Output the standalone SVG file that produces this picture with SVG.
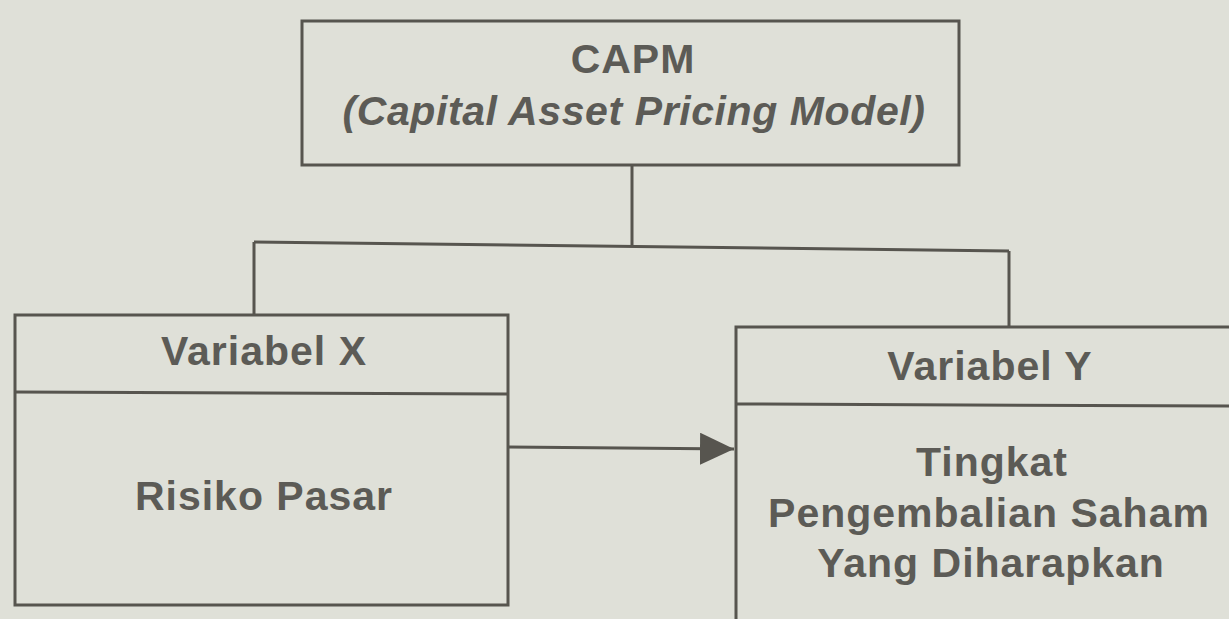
<svg xmlns="http://www.w3.org/2000/svg" width="1229" height="619" viewBox="0 0 1229 619">
<style>
.bg{fill:#dfe0d8}
.box{fill:none;stroke:#57554f;stroke-width:3}
.ln{fill:none;stroke:#57554f;stroke-width:3}
.t{font-family:"Liberation Sans",Arial,sans-serif;font-weight:bold;font-size:41px;fill:#5c5b56;text-anchor:middle;letter-spacing:1px}
.i{font-style:italic;letter-spacing:0.6px}
</style>
<defs>
<marker id="ah" viewBox="0 0 34 32" refX="34" refY="16" markerWidth="34" markerHeight="32" markerUnits="userSpaceOnUse" orient="auto">
<path d="M0,0 L34,16 L0,32 Z" fill="#57554f"/>
</marker>
</defs>
<rect class="bg" x="0" y="0" width="1229" height="619"/>
<g id="connectors">
<path class="ln" d="M632,165 L632,246"/>
<path class="ln" d="M254,242 L1009,251"/>
<path class="ln" d="M254,242 L254,315"/>
<path class="ln" d="M1009,251 L1009,327"/>
<path class="ln" d="M508,447 L734,449" marker-end="url(#ah)"/>
</g>
<g id="node-capm">
<rect class="box" x="302" y="21" width="657" height="144"/>
<text class="t" x="633" y="73">CAPM</text>
<text class="t i" x="634" y="125">(Capital Asset Pricing Model)</text>
</g>
<g id="node-x">
<rect class="box" x="15" y="315" width="493" height="290"/>
<path class="ln" d="M15,392 L508,394"/>
<text class="t" x="264" y="365">Variabel X</text>
<text class="t" x="264" y="510">Risiko Pasar</text>
</g>
<g id="node-y">
<rect class="box" x="736" y="327" width="520" height="320"/>
<path class="ln" d="M736,404 L1229,406"/>
<text class="t" x="990" y="380">Variabel Y</text>
<text class="t" x="992" y="476">Tingkat</text>
<text class="t" x="989" y="527">Pengembalian Saham</text>
<text class="t" x="991" y="577">Yang Diharapkan</text>
</g>
</svg>
